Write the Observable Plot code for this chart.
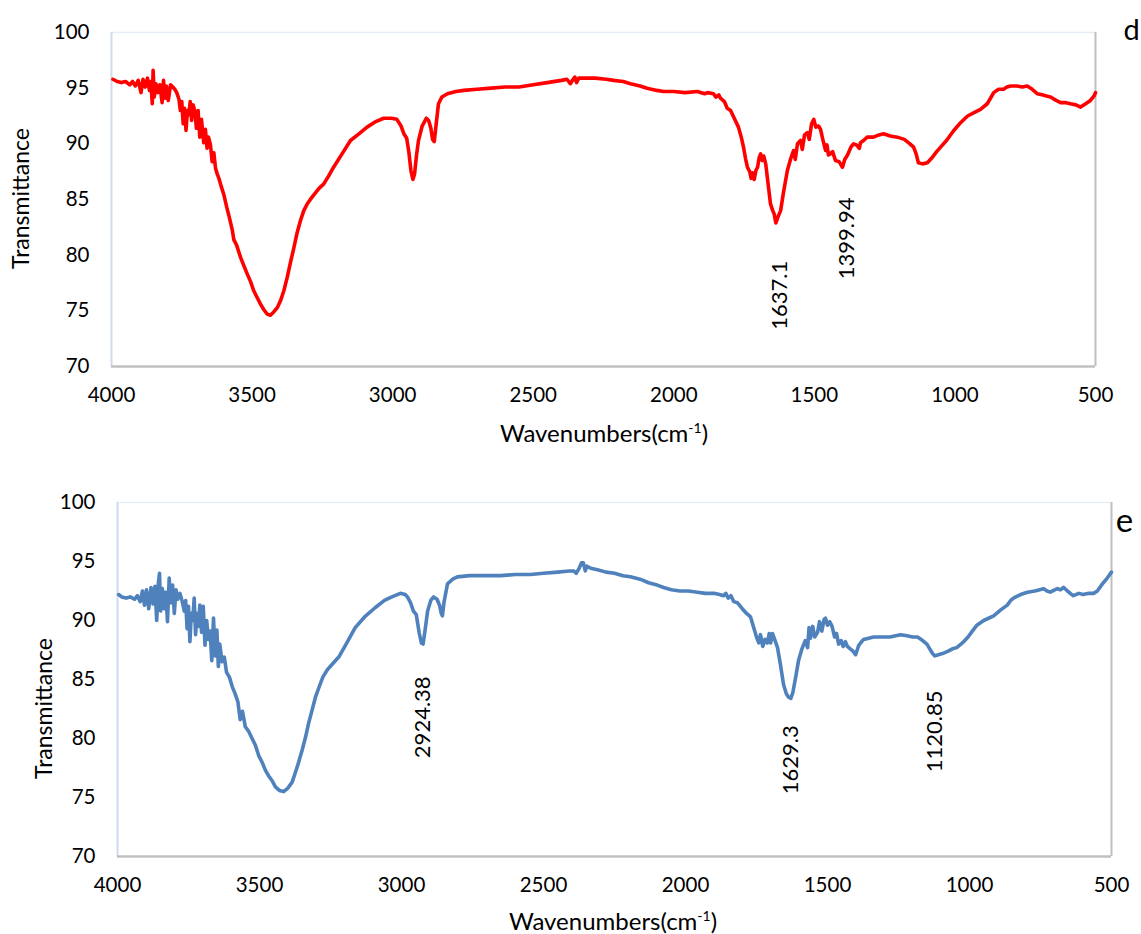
<!DOCTYPE html>
<html>
<head>
<meta charset="utf-8">
<script src="https://cdn.jsdelivr.net/npm/d3@7"></script>
<script src="https://cdn.jsdelivr.net/npm/@observablehq/plot@0.6"></script>
<style>
  html, body { margin: 0; padding: 0; background: #fff; }
  body { width: 1141px; height: 934px; position: relative; overflow: hidden; font-family: Lato, "Open Sans", sans-serif; }
  .panel { position: absolute; left: 0; }
  .xlabel { position: absolute; font-family: Lato, sans-serif; font-size: 24px; color: #000; white-space: nowrap; transform: translateX(-50%); line-height: 1; }
  .xlabel sup { font-size: 14px; vertical-align: 0; position: relative; top: -9px; }
</style>
</head>
<body>
<div id="top" class="panel" style="top:0px"></div>
<div id="xlab1" class="xlabel" style="left:604px; top:421px">Wavenumbers(cm<sup>-1</sup>)</div>
<div id="bottom" class="panel" style="top:460px"></div>
<div id="xlab2" class="xlabel" style="left:613px; top:909px">Wavenumbers(cm<sup>-1</sup>)</div>
<script>
// ---- Data: spectrum d (red) ----
const wavenumbersD = [3995,3980,3965,3950,3935,3925,3915,3905,3895,3888,3880,3872,3865,3860,3855,3852,3848,3842,3835,3828,3820,3815,3810,3805,3798,3790,3782,3775,3768,3760,3755,3750,3745,3740,3735,3730,3725,3720,3715,3710,3703,3698,3692,3686,3680,3672,3666,3660,3655,3648,3642,3636,3630,3624,3618,3610,3600,3590,3580,3570,3565,3555,3541,3530,3517,3505,3494,3482,3470,3458,3446,3435,3423,3410,3399,3387,3375,3363,3351,3340,3328,3316,3304,3290,3281,3262,3245,3228,3210,3180,3150,3120,3091,3060,3032,3005,2985,2970,2960,2950,2942,2935,2928,2922,2915,2908,2895,2880,2872,2864,2858,2852,2845,2837,2825,2805,2775,2747,2700,2650,2600,2550,2500,2450,2400,2380,2368,2358,2352,2346,2338,2320,2280,2240,2214,2180,2154,2120,2095,2060,2036,2000,1960,1916,1890,1880,1859,1850,1840,1834,1820,1810,1798,1785,1770,1760,1752,1745,1738,1730,1725,1720,1714,1708,1702,1696,1691,1685,1680,1673,1665,1656,1648,1643,1637,1630,1620,1610,1596,1585,1574,1568,1560,1549,1543,1535,1525,1518,1510,1502,1495,1485,1478,1470,1460,1455,1450,1443,1435,1425,1412,1400,1392,1382,1370,1361,1350,1340,1336,1325,1312,1290,1270,1254,1230,1205,1180,1160,1147,1138,1130,1115,1098,1080,1065,1051,1030,1004,980,955,932,909,885,862,845,827,815,802,780,760,743,725,707,690,675,660,640,624,605,589,570,553,535,518,505,500];
const transmittanceD = [95.8,95.6,95.5,95.6,95.3,95.6,95.2,95.7,94.6,95.8,95.1,95.9,94.8,95.6,93.6,96.6,94.2,95.4,94.6,95.3,93.7,95.7,94.1,95.2,93.9,95.3,95.1,94.9,94.6,94.0,93.0,93.8,91.8,93.2,91.2,93.0,92.6,93.8,92.1,93.5,92.9,91.4,93.0,90.6,92.2,90.1,91.3,89.6,90.6,89.9,88.4,89.2,87.8,87.3,86.9,86.2,85.4,84.3,83.3,82.2,81.4,80.9,79.8,79.1,78.3,77.6,76.8,76.2,75.6,75.1,74.7,74.6,74.9,75.3,75.9,76.8,78.0,79.4,80.7,82.0,83.1,84.0,84.6,85.1,85.4,86.0,86.4,87.1,87.9,89.1,90.3,90.9,91.5,92.0,92.3,92.3,92.2,91.6,90.9,90.5,89.2,87.6,86.8,87.3,89.0,90.3,91.6,92.3,92.1,91.4,90.4,90.2,91.8,93.6,94.2,94.5,94.7,94.8,94.9,95.0,95.1,95.1,95.3,95.5,95.7,95.8,95.4,95.8,96.0,95.5,95.9,95.9,95.9,95.8,95.7,95.6,95.4,95.2,95.0,94.8,94.7,94.7,94.6,94.7,94.5,94.6,94.5,94.2,94.4,94.1,93.8,93.2,93.0,92.3,91.5,90.6,89.7,88.7,87.9,87.5,86.9,87.4,86.8,87.6,87.9,88.8,89.1,88.5,88.9,88.2,86.5,84.6,84.0,83.7,82.9,83.4,84.0,85.6,87.6,88.6,89.4,88.6,90.0,90.3,89.5,90.8,91.0,90.4,91.8,92.2,91.5,91.6,91.3,90.4,89.4,89.9,89.0,89.1,89.3,88.5,88.4,87.9,88.6,89.0,89.7,90.0,89.9,89.6,90.1,90.3,90.6,90.6,90.8,90.9,90.7,90.6,90.4,90.0,89.7,89.1,88.3,88.2,88.3,88.8,89.3,89.7,90.3,91.2,91.9,92.5,92.8,93.1,93.6,94.6,94.9,94.9,95.1,95.2,95.2,95.1,95.2,94.9,94.5,94.4,94.3,94.2,93.9,93.7,93.7,93.6,93.5,93.3,93.6,93.9,94.3,94.6];

// ---- Data: spectrum e (blue) ----
const wavenumbersE = [3996,3985,3970,3955,3940,3930,3920,3912,3905,3898,3890,3882,3875,3868,3862,3856,3852,3848,3842,3836,3830,3824,3818,3812,3806,3800,3794,3788,3780,3772,3765,3760,3755,3750,3745,3740,3735,3730,3725,3720,3715,3710,3704,3698,3692,3686,3680,3674,3668,3662,3656,3650,3645,3640,3632,3624,3616,3606,3596,3586,3576,3568,3560,3550,3538,3526,3514,3502,3491,3479,3467,3455,3444,3430,3415,3400,3385,3374,3362,3350,3338,3327,3315,3303,3291,3277,3262,3240,3221,3195,3163,3130,3092,3060,3034,3004,2987,2979,2968,2958,2948,2938,2930,2924,2918,2908,2897,2887,2875,2866,2860,2856,2850,2838,2820,2803,2760,2722,2650,2600,2546,2500,2450,2410,2394,2385,2375,2366,2360,2353,2347,2340,2330,2310,2280,2250,2220,2194,2160,2130,2100,2077,2050,2020,1990,1958,1930,1900,1880,1866,1858,1850,1840,1830,1817,1800,1785,1771,1760,1750,1742,1736,1728,1720,1712,1705,1700,1694,1686,1676,1666,1655,1645,1637,1629,1622,1612,1602,1590,1578,1570,1565,1560,1552,1545,1535,1528,1520,1512,1507,1500,1492,1484,1475,1468,1461,1452,1445,1437,1430,1420,1410,1401,1390,1380,1373,1355,1338,1310,1280,1243,1220,1200,1183,1165,1150,1140,1130,1122,1110,1095,1075,1060,1045,1025,1005,990,974,950,915,890,867,855,845,820,796,770,739,727,716,700,690,680,669,655,640,634,615,600,580,563,550,532,515,500];
const transmittanceE = [92.2,92.0,91.9,92.0,91.8,92.1,91.6,92.5,91.3,92.6,91.0,92.8,91.4,92.9,90.0,93.2,94.0,90.8,92.7,91.0,92.4,89.9,93.6,91.5,93.0,90.6,92.6,91.8,92.3,91.6,90.8,91.7,89.3,91.2,88.2,90.6,90.0,91.9,88.8,90.6,89.5,91.3,89.0,91.2,87.9,90.0,88.4,89.1,86.6,90.2,87.0,89.2,86.1,88.0,86.5,86.9,85.6,85.2,84.4,83.8,83.1,81.6,82.3,81.0,80.6,80.0,79.4,78.5,78.0,77.3,76.8,76.4,75.9,75.6,75.5,75.8,76.3,77.1,78.0,79.0,80.1,81.3,82.4,83.5,84.3,85.2,85.8,86.4,86.9,88.0,89.4,90.3,91.1,91.7,92.0,92.3,92.2,92.0,91.5,90.8,90.5,89.0,88.1,88.0,89.0,90.8,91.7,92.0,91.8,91.3,90.6,90.4,91.6,93.1,93.5,93.7,93.8,93.8,93.8,93.9,93.9,94.0,94.1,94.2,94.2,94.0,94.4,94.9,94.9,94.2,94.6,94.5,94.4,94.3,94.1,94.0,93.8,93.7,93.5,93.2,93.0,92.8,92.6,92.5,92.5,92.4,92.3,92.3,92.2,92.1,92.3,91.9,92.1,91.6,91.5,91.0,90.6,90.3,89.4,88.6,88.1,88.8,87.8,88.4,88.1,88.9,88.1,88.9,88.4,87.7,86.3,84.6,83.8,83.5,83.4,83.9,85.2,86.6,87.6,88.3,87.7,89.4,88.5,89.5,88.6,89.0,89.9,89.1,90.1,90.2,89.6,89.9,89.5,88.6,88.9,88.0,88.3,87.8,88.2,87.8,87.6,87.4,87.1,87.9,88.2,88.4,88.5,88.6,88.6,88.6,88.8,88.7,88.6,88.6,88.3,88.0,87.6,87.2,87.0,87.1,87.2,87.4,87.6,87.7,88.1,88.6,89.1,89.6,90.0,90.4,90.9,91.3,91.7,91.9,92.2,92.4,92.5,92.7,92.5,92.4,92.6,92.7,92.6,92.8,92.5,92.2,92.1,92.3,92.2,92.3,92.3,92.5,93.1,93.6,94.1];

// ---- Axis ticks ----
const xTicks = [4000, 3500, 3000, 2500, 2000, 1500, 1000, 500];
const yTicks = [70, 75, 80, 85, 90, 95, 100];

// ---- Peak annotations ----
const peaksD = ["1637.1", "1399.94"];
const peakLabelYD = [76.4, 81.5];
const peaksE = ["2924.38", "1629.3", "1120.85"];
const peakLabelYE = [81.8, 78.2, 80.6];

const font = "Lato, 'Open Sans', sans-serif";

function panel({wn, tr, color, width: w, height, mt, mb, ml, mr, peaks, peakY, peakDx, letter, letterDx, letterDy, letterSize, ylabDx, ylabDy}) {
  const data = wn.map((x, i) => ({x, y: tr[i]}));
  const ann = peaks.map((t, i) => ({x: +t, y: peakY[i], t}));
  return Plot.plot({
    width: w, height,
    marginTop: mt, marginBottom: mb, marginLeft: ml, marginRight: mr,
    style: {fontFamily: font, background: "#fff", color: "#000", overflow: "visible"},
    x: {domain: [4000, 500], ticks: xTicks, label: null},
    y: {domain: [70, 100], ticks: yTicks, label: null},
    marks: [
      Plot.ruleY([100], {stroke: "#e6edf6", strokeWidth: 1.5}),
      Plot.ruleX([4000], {stroke: "#cfdbec", strokeWidth: 2}),
      Plot.ruleX([500], {stroke: "#c0c0c0", strokeWidth: 2}),
      Plot.ruleY([70], {stroke: "#c0c0c0", strokeWidth: 2.5}),
      Plot.axisX({ticks: xTicks, tickSize: 0, tickPadding: 21, fontSize: 20.5, tickFormat: d => String(d), label: null}),
      Plot.axisY({ticks: yTicks, tickSize: 0, tickPadding: 22, fontSize: 20.5, label: null}),
      Plot.line(data, {x: "x", y: "y", stroke: color, strokeWidth: 3.6, strokeLinejoin: "round", strokeLinecap: "round"}),
      Plot.text(ann, {x: "x", y: "y", text: "t", rotate: -90, dx: peakDx, fontSize: 22, fill: "#000", textAnchor: "middle", lineAnchor: "middle"}),
      Plot.text([letter], {frameAnchor: "top-right", text: d => d, dx: letterDx, dy: letterDy, fontSize: letterSize, fill: "#000", textAnchor: "middle", lineAnchor: "middle"}),
      Plot.text(["Transmittance"], {frameAnchor: "left", text: d => d, rotate: -90, dx: ylabDx, dy: ylabDy, fontSize: 23, fill: "#000", textAnchor: "middle", lineAnchor: "middle"})
    ]
  });
}

document.getElementById("top").appendChild(panel({
  wn: wavenumbersD, tr: transmittanceD, color: "#ff0000",
  width: 1141, height: 412, mt: 32, mb: 46, ml: 111, mr: 46,
  peaks: peaksD, peakY: peakLabelYD, peakDx: 4,
  letter: "d", letterDx: 36, letterDy: -2, letterSize: 29,
  ylabDx: -89.5, ylabDy: -1
}));

document.getElementById("bottom").appendChild(panel({
  wn: wavenumbersE, tr: transmittanceE, color: "#4f81bd",
  width: 1141, height: 440, mt: 42, mb: 44, ml: 117, mr: 30,
  peaks: peaksE, peakY: peakLabelYE, peakDx: 0,
  letter: "e", letterDx: 13, letterDy: 19, letterSize: 33,
  ylabDx: -73, ylabDy: 29
}));
</script>
</body>
</html>
